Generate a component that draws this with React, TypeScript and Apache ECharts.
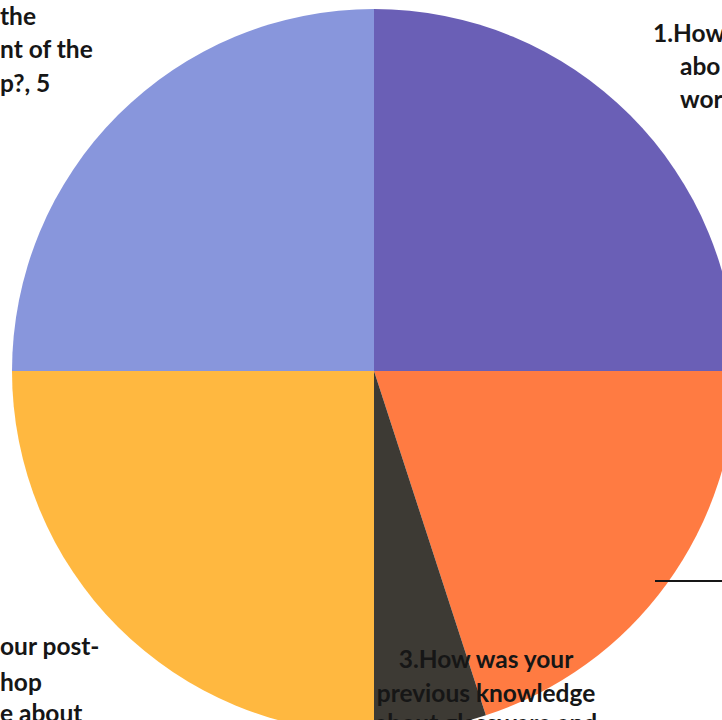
import React, { useEffect, useRef } from "react";
import * as echarts from "echarts";

const categories = ["1", "2", "3", "4", "5"];
const values = [5, 4, 1, 5, 5];
const colors = ["#6a5fb6", "#ff7b42", "#3d3a34", "#ffb840", "#8896dc"];

const labelTopLeft = ["the", "nt of the", "p?, 5"];
const labelTopRight = ["1.How", "abo", "wor"];
const labelBottomLeft = ["our post-", "hop", "e about"];
const labelBottom = ["3.How was your", "previous knowledge", "about glassware and"];

export default function App() {
  const ref = useRef<HTMLDivElement>(null);
  useEffect(() => {
    document.body.style.margin = "0";
    const chart = echarts.init(ref.current!, null, { renderer: "svg" });
    const font = { fontFamily: "Lato", fontWeight: "bold", fontSize: 24.5, fill: "#161616" };
    const text = (t: string, x: number, y: number, align: string) => ({
      type: "text",
      x,
      y,
      style: { text: t, ...font, textAlign: align, textVerticalAlign: "middle" },
      z: 10,
    });
    chart.setOption({
      animation: false,
      backgroundColor: "#ffffff",
      series: [
        {
          type: "pie",
          center: [374, 371],
          radius: 362,
          startAngle: 90,
          clockwise: true,
          label: { show: false },
          labelLine: { show: false },
          itemStyle: { borderWidth: 0 },
          data: categories.map((c, i) => ({
            name: c,
            value: values[i],
            itemStyle: { color: colors[i] },
          })),
        },
      ],
      graphic: [
        text(labelTopLeft[0], 0, 15, "left"),
        text(labelTopLeft[1], 0, 48, "left"),
        text(labelTopLeft[2], 0, 82, "left"),
        text(labelTopRight[0], 653, 32, "left"),
        text(labelTopRight[1], 680, 65, "left"),
        text(labelTopRight[2], 680, 98, "left"),
        text(labelBottomLeft[0], 0, 645, "left"),
        text(labelBottomLeft[1], 0, 681, "left"),
        text(labelBottomLeft[2], 0, 712, "left"),
        text(labelBottom[0], 486, 658, "center"),
        text(labelBottom[1], 486, 692, "center"),
        text(labelBottom[2], 486, 722, "center"),
        {
          type: "line",
          shape: { x1: 655, y1: 581, x2: 722, y2: 581 },
          style: { stroke: "#161616", lineWidth: 2 },
          z: 10,
        },
      ],
    });
    return () => chart.dispose();
  }, []);
  return <div ref={ref} style={{ position: "absolute", left: 0, top: 0, width: 722, height: 720 }} />;
}
